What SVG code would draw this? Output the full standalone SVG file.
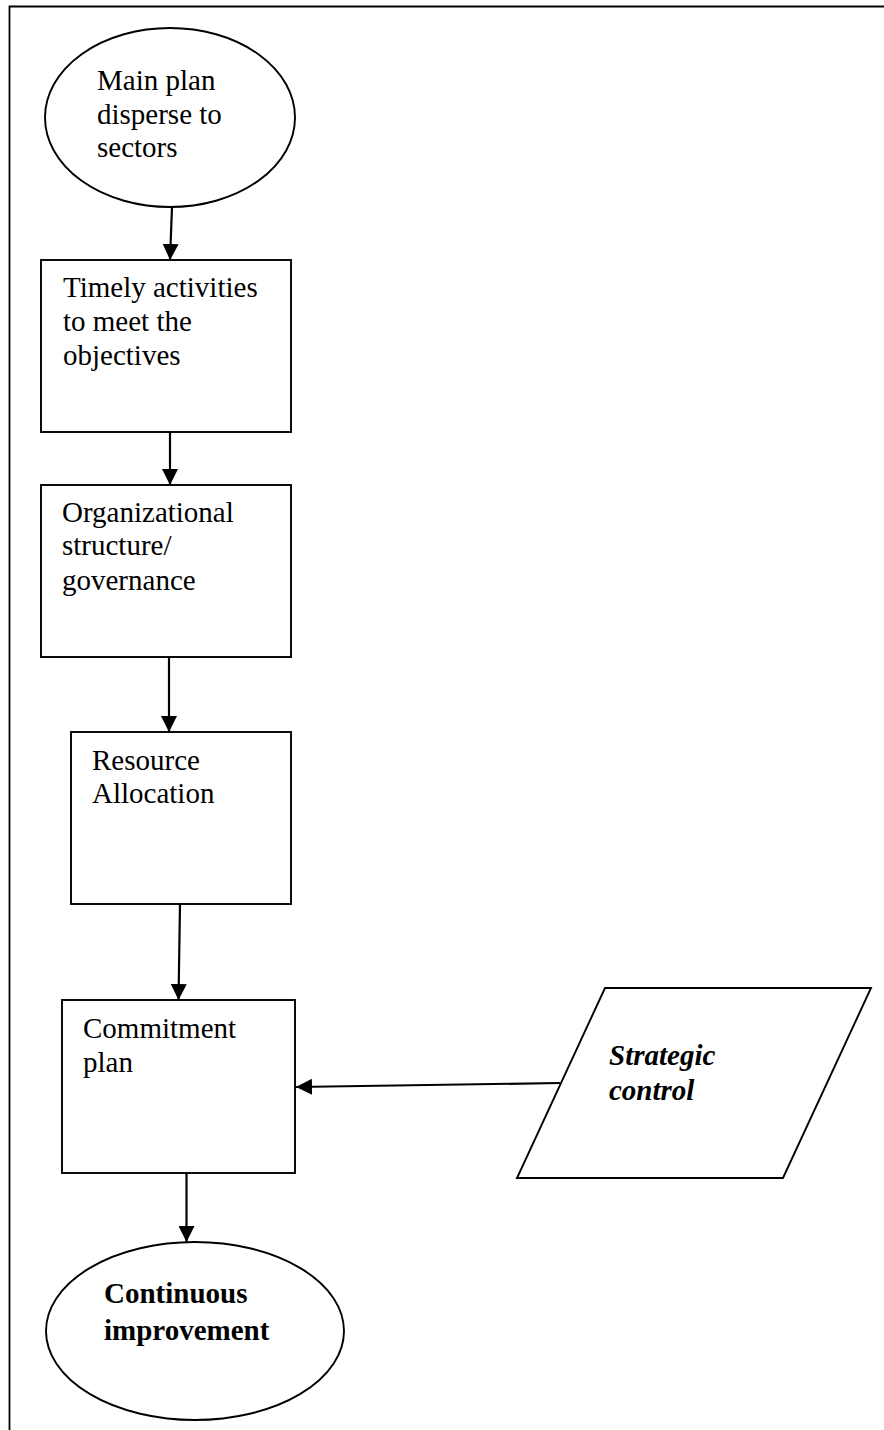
<svg xmlns="http://www.w3.org/2000/svg" width="884" height="1430" viewBox="0 0 884 1430">
  <style>
    .shape { fill: #ffffff; stroke: #000000; stroke-width: 1.9; }
    .frame { fill: none; stroke: #000000; stroke-width: 1.8; }
    .edge { fill: none; stroke: #000000; stroke-width: 2.2; marker-end: url(#arrow); }
    .label { font-family: "Liberation Serif", "Times New Roman", serif; font-size: 29px; fill: #000000; }
    .bold { font-weight: bold; }
    .bolditalic { font-weight: bold; font-style: italic; }
  </style>
  <defs>
    <marker id="arrow" viewBox="0 0 16 16" refX="16" refY="8" markerWidth="16" markerHeight="16" markerUnits="userSpaceOnUse" orient="auto">
      <path d="M0,0 L16,8 L0,16 Z" fill="#000000"/>
    </marker>
  </defs>

  <!-- page frame: top and left rules -->
  <path class="frame" d="M884,6.5 L9.5,6.5 L9.5,1430"/>

  <g id="connectors">
    <path class="edge" d="M172,207 L170,260"/>
    <path class="edge" d="M170,432 L170,485"/>
    <path class="edge" d="M169,657 L169,732"/>
    <path class="edge" d="M180,904 L178.5,1000"/>
    <path class="edge" d="M560,1083 L296,1087"/>
    <path class="edge" d="M186.5,1173 L186.5,1242"/>
  </g>

  <g id="main-plan">
    <ellipse class="shape" cx="170" cy="117.5" rx="125" ry="89.5"/>
    <text class="label" x="97" y="90">Main plan</text>
    <text class="label" x="97" y="124">disperse to</text>
    <text class="label" x="97" y="157">sectors</text>
  </g>

  <g id="timely-activities">
    <rect class="shape" x="41" y="260" width="250" height="172"/>
    <text class="label" x="63" y="297">Timely activities</text>
    <text class="label" x="63" y="331">to meet the</text>
    <text class="label" x="63" y="365">objectives</text>
  </g>

  <g id="organizational-structure">
    <rect class="shape" x="41" y="485" width="250" height="172"/>
    <text class="label" x="62" y="522">Organizational</text>
    <text class="label" x="62" y="555">structure/</text>
    <text class="label" x="62" y="590">governance</text>
  </g>

  <g id="resource-allocation">
    <rect class="shape" x="71" y="732" width="220" height="172"/>
    <text class="label" x="92" y="770">Resource</text>
    <text class="label" x="92" y="803">Allocation</text>
  </g>

  <g id="commitment-plan">
    <rect class="shape" x="62" y="1000" width="233" height="173"/>
    <text class="label" x="83" y="1038">Commitment</text>
    <text class="label" x="83" y="1072">plan</text>
  </g>

  <g id="strategic-control">
    <polygon class="shape" points="605,988 871,988 783,1178 517,1178"/>
    <text class="label bolditalic" x="609" y="1065">Strategic</text>
    <text class="label bolditalic" x="609" y="1100">control</text>
  </g>

  <g id="continuous-improvement">
    <ellipse class="shape" cx="195" cy="1331" rx="149" ry="89"/>
    <text class="label bold" x="104" y="1303">Continuous</text>
    <text class="label bold" x="104" y="1340">improvement</text>
  </g>
</svg>
